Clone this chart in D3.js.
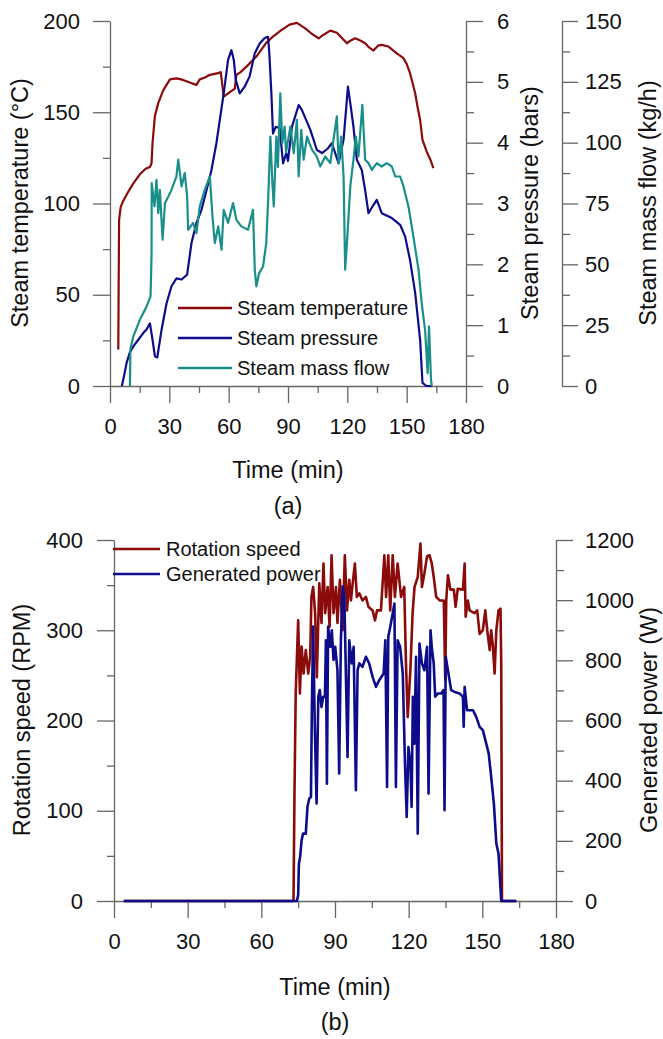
<!DOCTYPE html>
<html>
<head>
<meta charset="utf-8">
<script src="https://cdn.jsdelivr.net/npm/d3@7"></script>
<style>
  body { margin: 0; background: #fff; }
  svg { display: block; font-family: "Liberation Sans", Arial, sans-serif; }
  .axis path, .axis line { stroke: #666; stroke-width: 1.3; }
  .axis text { fill: #111; font-size: 22px; font-family: "Liberation Sans", Arial, sans-serif; }
  .title { fill: #111; font-size: 23.5px; }
  .legend { fill: #111; font-size: 20px; }
</style>
</head>
<body>
<div id="chart"></div>
<script>
// ---- data ----
// (a) steam conditions
var tempTime = [4.2,4.4,4.6,5.4,6.5,9,11.8,15.1,18,20.2,21,21.5,22.7,24.4,26.9,30.3,33.6,36,38.7,41,43.7,45.4,48,50.5,54.7,56,57.5,60.6,63.1,63.9,66,69,74,79,82.4,86.6,90.8,94.5,98.7,102,105.5,108,111.4,114.7,117,119.8,122,124,127,129,131,133.2,135.5,137.4,140.8,143,145,148.4,150,151.7,153,154.3,155.5,156.8,158,160.1,162,163.5];
var tempValues = [20,60,91,98,101,106,111,116,119,120,122,133,148,155,162,168,168.6,168,167,166,165,168,169,170.5,171.4,172,158.6,161,163,170.5,172,175,180.5,188,191.5,195,198,199,196,193,190.5,192.5,194.7,193.6,191,187.8,189.5,190.5,189,187.8,185.5,183.8,186.5,186.9,186,184,182.3,179.6,176.5,171.4,166,160.4,153,145.8,134.9,128.5,124,119.4];

var pressTime = [6,7,8.4,10,11.8,14.3,16.8,18.5,20.2,21.5,22.7,23.9,25,26.1,28.6,31.1,33.6,36.2,39,41.2,43.7,46.3,48.8,51.3,53.8,55.5,57.5,59.7,61.4,62.6,63.6,65.6,68.1,70.6,73.2,75.7,78.2,79.9,80.5,81.6,82.4,83.8,85.8,87.5,89.1,90,92,95.4,97,101.3,104.6,107.2,110,112.2,115.6,118.1,119.5,120.3,121.5,123.1,124.8,127.3,129,130.7,132.7,134.9,137.4,142.5,146.7,149.2,151.7,154.3,156.8,158,160,162.7];
var pressValues = [0,0.15,0.38,0.55,0.65,0.76,0.87,0.93,1.03,0.76,0.49,0.47,0.7,0.93,1.36,1.64,1.77,1.75,1.83,2.35,2.68,2.9,3.22,3.55,3.99,4.37,4.81,5.36,5.52,5.36,5.03,4.81,4.92,5.09,5.47,5.63,5.72,5.74,5.5,4.81,4.15,4.26,4.24,3.66,3.83,3.7,4.26,4.62,4.54,4.21,3.88,3.83,3.9,3.99,3.66,4.05,4.6,4.92,4.65,4.26,3.72,3.55,3.22,2.84,2.95,3.06,2.84,2.76,2.65,2.46,2.07,1.53,0.76,0.05,0,0];

var flowTime = [10.1,10.3,11.8,15.1,18.5,20.5,21,21.1,21.9,22.5,23.5,24.4,25.2,26.6,27.8,29.5,31.1,33.6,34.5,36.2,37.8,39,39.5,42,43.7,45.4,47.9,50.5,51.8,53,54.7,56.4,57.5,59.7,62.2,63.9,66.4,69.8,72.3,73.2,74,75.4,77.4,79,79.9,81.1,82.1,82.8,84.1,84.9,86.1,87.1,88.3,89,91.2,92.9,94.5,95.4,96.7,97.9,99.6,102.1,104.6,106.3,108.8,111.4,113,114.7,115.6,116.9,118.1,118.9,119.8,121.5,123.1,124.3,125.6,127.6,129,130.7,132.4,134.9,137.4,139.9,142.5,144.2,146.7,148.4,150.9,153.4,156,157.6,159.3,160.6,161.3,162.3,162.7];
var flowValues = [0,15,20.4,27.2,32.7,36.8,53.3,83.4,77.9,73.8,84.7,71,80.6,60.1,75.2,77.9,80.6,86.1,93,82,87.5,77.9,64.2,67,62.8,73.8,80.6,86.1,69.7,58.7,65.6,56,72.4,67,75.2,68.3,65.6,64.2,72.4,47.8,40.9,46.4,49.1,58.7,75.2,102.5,83.4,73.8,102.5,90,120.3,99.8,106.6,96,106.6,95.7,109.4,86.1,105.3,93,102.5,97.1,94.3,90.2,94.3,91.6,101.2,110.8,91.6,102.5,86.1,47.8,58.7,82,93,102.5,94.3,115.5,93,91.6,88.8,91.6,90.2,91.6,90.2,86.1,86.1,82,73.8,61.5,47.8,34.1,23.1,5.3,24.5,2.6,0];

// (b) turbine
var speedTime = [4,73.1,73.5,74,75,75.7,76.4,77.2,78.1,79.1,79.9,80.4,81.1,81.9,82.6,83.6,84.5,85.3,86,87,87.8,88.6,89.4,90.4,91,92,93.1,94,94.9,95.8,96.5,97.2,98.1,98.9,99.9,101.2,102.6,103.6,105.3,106.3,107.1,108.7,110.1,110.8,111.7,112.5,113.5,114.4,115.5,116.9,118.2,118.9,119.6,120.7,121.6,122.4,123.7,124.8,125.4,126.4,127.5,128.5,129.4,130.2,131.2,132.6,134.3,134.9,135.3,136,137,138.4,139.1,140,142.1,142.8,143.2,144.1,144.8,146.8,147.9,148.9,150.2,151.2,152,153,153.6,154.3,155,155.7,156.6,157.4,157.7,158,163.8];
var speedValues = [0,0,119,230,311,230,282,252,278,252,271,337,348,319,248,352,308,374,319,348,304,383,319,348,308,356,300,383,322,356,333,352,374,337,341,333,337,326,322,311,322,322,383,337,383,322,383,337,374,337,348,263,204,256,319,348,359,396,348,363,382,383,374,359,337,333,333,245,333,361,345,345,326,346,345,374,315,333,322,319,322,296,300,322,300,278,300,282,252,300,322,324,263,0,0];

var powerTime = [4,74.5,75,75.3,75.8,76.4,77,78.1,78.8,79.5,80.2,80.6,81.1,81.8,82.5,83.2,83.8,84.5,85.2,85.9,86.3,86.7,87.2,88.1,88.7,89.4,90.1,91,91.7,92.4,93.1,93.8,94.4,95.1,95.8,96.8,97.6,98.5,99.2,99.9,101.2,102.6,103.9,105.3,106.7,108,109.8,110.5,111.2,111.7,112.5,113.5,114.2,114.8,115.5,116.5,117.6,118.5,119.2,119.9,120.7,121.2,121.7,122.3,123,123.7,124.4,125.4,126.4,127.5,128.1,128.9,129.4,130.2,130.8,131.9,133.2,134.2,134.6,135.1,136.2,137.3,138.7,140.7,142.1,142.4,142.8,143.8,146.2,147.5,148.9,150.2,151.6,152.6,153.6,154.7,155.7,156.6,157.2,157.7,163.8];
var powerValues = [0,0,20,124,146,202,224,224,313,340,346,656,912,568,324,679,701,645,679,679,867,390,912,845,900,801,845,767,424,867,1045,1011,767,479,867,790,845,368,767,790,778,812,790,745,712,734,756,867,379,878,912,956,989,379,867,845,756,457,279,512,457,313,679,523,812,224,856,790,767,845,357,900,845,790,679,690,690,701,302,812,756,701,695,690,679,579,712,634,634,612,579,568,523,490,413,324,191,157,69,0,0];

// tick values
var timeTicks = [0,30,60,90,120,150,180];
var timeMinor = [15,45,75,105,135,165];
var tempTicks = [0,50,100,150,200];
var pressTicks = [0,1,2,3,4,5,6];
var flowTicks = [0,25,50,75,100,125,150];
var speedTicks = [0,100,200,300,400];
var powerTicks = [0,200,400,600,800,1000,1200];

var RED = "#8b0b0b", BLUE = "#0d0d8c", TEAL = "#1a8f8a";
var fmt = d3.format("d");

var svg = d3.select("#chart").append("svg")
  .attr("width", 663)
  .attr("height", 1039);

function zip(xs, ys) { return xs.map(function(t, i){ return [t, ys[i]]; }); }

function addAxis(g, axis, minor, minorSize) {
  g.call(axis.tickFormat(fmt));
  if (minor) {
    g.append("g").call(minor.tickSize(minorSize).tickFormat(""))
      .call(function(s){ s.select(".domain").remove(); });
  }
}

// ===================== (a) =====================
var xA = d3.scaleLinear().domain([0, 180]).range([110, 466]);
var yTemp = d3.scaleLinear().domain([0, 200]).range([386, 21]);
var yPress = d3.scaleLinear().domain([0, 6]).range([386, 21]);
var yFlow = d3.scaleLinear().domain([0, 150]).range([386, 21]);

var gx = svg.append("g").attr("class", "axis").attr("transform", "translate(0,386)");
addAxis(gx, d3.axisBottom(xA).tickValues(timeTicks).tickSize(17).tickSizeOuter(0).tickPadding(15),
  d3.axisBottom(xA).tickValues(timeMinor), 7);

var gy = svg.append("g").attr("class", "axis").attr("transform", "translate(110,0)");
addAxis(gy, d3.axisLeft(yTemp).tickValues(tempTicks).tickSize(17).tickSizeOuter(0).tickPadding(13),
  d3.axisLeft(yTemp).tickValues(d3.range(25, 200, 50)), 7);

var gp = svg.append("g").attr("class", "axis").attr("transform", "translate(466,0)");
addAxis(gp, d3.axisRight(yPress).tickValues(pressTicks).tickSize(17).tickSizeOuter(0).tickPadding(14),
  d3.axisRight(yPress).tickValues(d3.range(0.5, 6, 1)), 8);

var gf = svg.append("g").attr("class", "axis").attr("transform", "translate(562,0)");
addAxis(gf, d3.axisRight(yFlow).tickValues(flowTicks).tickSize(16).tickSizeOuter(0).tickPadding(7),
  d3.axisRight(yFlow).tickValues(d3.range(12.5, 150, 25)), 8);

var lineTemp = d3.line().x(function(d){ return xA(d[0]); }).y(function(d){ return yTemp(d[1]); });
var linePress = d3.line().x(function(d){ return xA(d[0]); }).y(function(d){ return yPress(d[1]); });
var lineFlow = d3.line().x(function(d){ return xA(d[0]); }).y(function(d){ return yFlow(d[1]); });

[[zip(tempTime, tempValues), lineTemp, RED],
 [zip(pressTime, pressValues), linePress, BLUE],
 [zip(flowTime, flowValues), lineFlow, TEAL]].forEach(function(s) {
  svg.append("path")
    .attr("d", s[1](s[0]))
    .attr("fill", "none")
    .attr("stroke", s[2])
    .attr("stroke-width", 2.2)
    .attr("stroke-linejoin", "round");
});

// legend (a)
var legA = [["Steam temperature", RED], ["Steam pressure", BLUE], ["Steam mass flow", TEAL]];
legA.forEach(function(l, i) {
  var y = 308 + i * 30;
  svg.append("line").attr("x1", 178).attr("x2", 232).attr("y1", y).attr("y2", y)
    .attr("stroke", l[1]).attr("stroke-width", 2.5);
  svg.append("text").attr("class", "legend").attr("x", 237).attr("y", y + 7).text(l[0]);
});

// axis titles (a)
svg.append("text").attr("class", "title")
  .attr("transform", "translate(28,203) rotate(-90)")
  .attr("text-anchor", "middle").text("Steam temperature (°C)");
svg.append("text").attr("class", "title")
  .attr("transform", "translate(538,203) rotate(-90)")
  .attr("text-anchor", "middle").text("Steam pressure (bars)");
svg.append("text").attr("class", "title")
  .attr("transform", "translate(656,203) rotate(-90)")
  .attr("text-anchor", "middle").text("Steam mass flow (kg/h)");
svg.append("text").attr("class", "title").attr("x", 288).attr("y", 478)
  .attr("text-anchor", "middle").text("Time (min)");
svg.append("text").attr("class", "title").attr("x", 288).attr("y", 514)
  .attr("text-anchor", "middle").text("(a)");

// ===================== (b) =====================
var xB = d3.scaleLinear().domain([0, 180]).range([114, 556]);
var ySpeed = d3.scaleLinear().domain([0, 400]).range([901, 540]);
var yPower = d3.scaleLinear().domain([0, 1200]).range([901, 540]);

var gx2 = svg.append("g").attr("class", "axis").attr("transform", "translate(0,901)");
addAxis(gx2, d3.axisBottom(xB).tickValues(timeTicks).tickSize(17).tickSizeOuter(0).tickPadding(15),
  d3.axisBottom(xB).tickValues(timeMinor), 7);

var gs = svg.append("g").attr("class", "axis").attr("transform", "translate(114,0)");
addAxis(gs, d3.axisLeft(ySpeed).tickValues(speedTicks).tickSize(17).tickSizeOuter(0).tickPadding(14),
  d3.axisLeft(ySpeed).tickValues(d3.range(50, 400, 100)), 7);

var gw = svg.append("g").attr("class", "axis").attr("transform", "translate(556,0)");
addAxis(gw, d3.axisRight(yPower).tickValues(powerTicks).tickSize(17).tickSizeOuter(0).tickPadding(12),
  d3.axisRight(yPower).tickValues(d3.range(100, 1200, 200)), 8);

var lineSpeed = d3.line().x(function(d){ return xB(d[0]); }).y(function(d){ return ySpeed(d[1]); });
var linePower = d3.line().x(function(d){ return xB(d[0]); }).y(function(d){ return yPower(d[1]); });

svg.append("path")
  .attr("d", lineSpeed(zip(speedTime, speedValues)))
  .attr("fill", "none").attr("stroke", RED).attr("stroke-width", 2.6)
  .attr("stroke-linejoin", "round");
svg.append("path")
  .attr("d", linePower(zip(powerTime, powerValues)))
  .attr("fill", "none").attr("stroke", BLUE).attr("stroke-width", 2.6)
  .attr("stroke-linejoin", "round");

// legend (b)
var legB = [["Rotation speed", RED], ["Generated power", BLUE]];
legB.forEach(function(l, i) {
  var y = 549 + i * 25;
  svg.append("line").attr("x1", 113).attr("x2", 160).attr("y1", y).attr("y2", y)
    .attr("stroke", l[1]).attr("stroke-width", 2.5);
  svg.append("text").attr("class", "legend").attr("x", 166).attr("y", y + 7).text(l[0]);
});

svg.append("text").attr("class", "title")
  .attr("transform", "translate(30,720) rotate(-90)")
  .attr("text-anchor", "middle").text("Rotation speed (RPM)");
svg.append("text").attr("class", "title")
  .attr("transform", "translate(657,720) rotate(-90)")
  .attr("text-anchor", "middle").text("Generated power (W)");
svg.append("text").attr("class", "title").attr("x", 335).attr("y", 995)
  .attr("text-anchor", "middle").text("Time (min)");
svg.append("text").attr("class", "title").attr("x", 335).attr("y", 1030)
  .attr("text-anchor", "middle").text("(b)");
</script>
</body>
</html>
